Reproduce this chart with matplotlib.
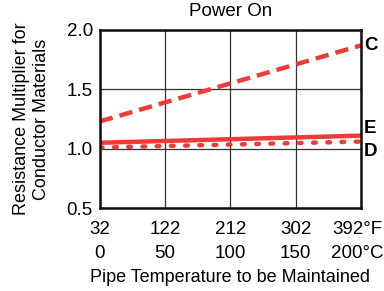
import matplotlib
matplotlib.use('Agg')
import matplotlib.pyplot as plt
from matplotlib.transforms import offset_copy

# data
temp_f = [32, 392]
curve_c = [1.23, 1.87]
curve_e = [1.05, 1.11]
curve_d = [1.01, 1.06]
xticks_f = [32, 122, 212, 302, 392]
xtick_labels = ['32\n0', '122\n50', '212\n100', '302\n150', '392°F\n200°C']
yticks = [0.5, 1.0, 1.5, 2.0]

RED = '#ef3b36'
plt.rcParams['font.family'] = ['Liberation Sans', 'DejaVu Sans']

fig = plt.figure(figsize=(3.84, 2.91), dpi=100)
ax = fig.add_axes([0.260, 0.285, 0.680, 0.612])

ax.plot(temp_f, curve_c, color=RED, lw=3.2, dashes=(3, 1.6))
ax.plot(temp_f, curve_e, color=RED, lw=3.2)
ax.plot(temp_f, curve_d, color=RED, lw=3.2, dashes=(0.6, 2.6), dash_capstyle='round')

ax.set_xlim(32, 392)
ax.set_ylim(0.5, 2.0)
ax.set_xticks(xticks_f)
ax.set_xticklabels(xtick_labels, fontsize=13.5, linespacing=1.55)
ax.set_yticks(yticks)
ax.set_yticklabels(['0.5', '1.0', '1.5', '2.0'], fontsize=13.5)
ax.tick_params(axis='x', length=0, pad=9)
ax.tick_params(axis='y', length=0, pad=5)
last = ax.get_xticklabels()[-1]
last.set_transform(offset_copy(last.get_transform(), fig=fig, x=-4, y=0, units='dots'))
ax.grid(True, color='#333333', lw=0.9)
for s in ax.spines.values():
    s.set_linewidth(1.8)
    s.set_color('#111111')

for lab, y in [('C', curve_c[-1]), ('E', curve_e[-1] + 0.06), ('D', curve_d[-1] - 0.08)]:
    ax.text(396, y, lab, fontsize=13.5, fontweight='bold', va='center', ha='left',
            clip_on=False)

ax.set_title('Power On', fontsize=13.5, pad=10)
ax.set_xlabel('Pipe Temperature to be Maintained', fontsize=13, labelpad=5)
ax.set_ylabel('Resistance Multiplier for\nConductor Materials', fontsize=13, labelpad=12,
              linespacing=1.25)

fig.savefig('out.png', dpi=100, facecolor='white')
